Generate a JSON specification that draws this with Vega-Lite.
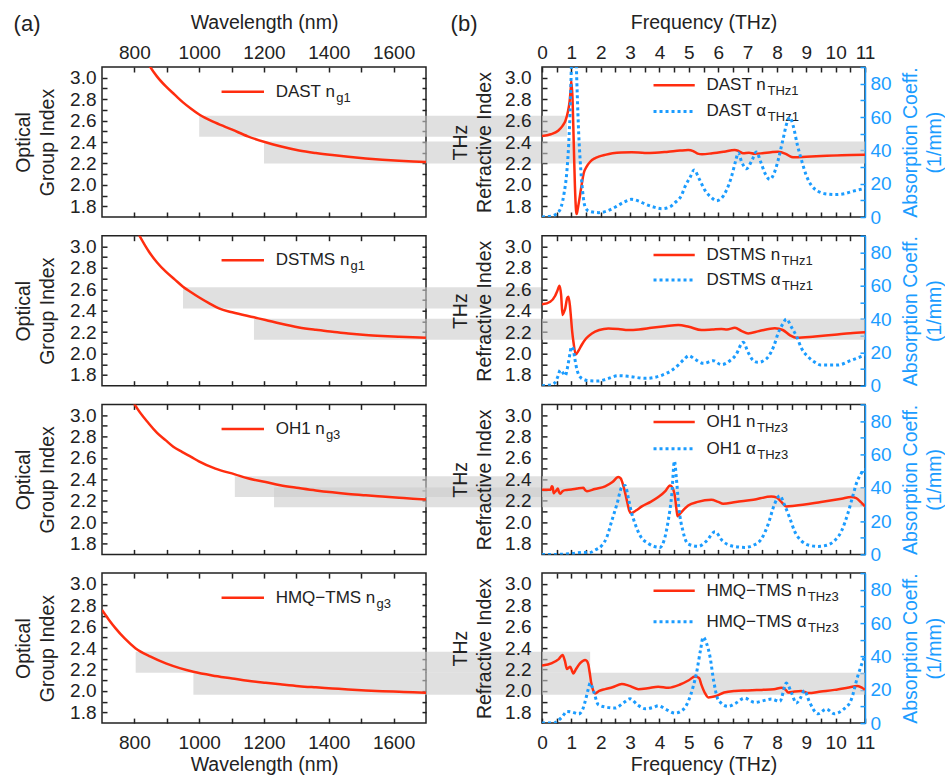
{
"$schema": "https://vega.github.io/schema/vega-lite/v6.json",
"background": "white",
"padding": {"left": 12, "top": 11, "right": 0, "bottom": 0},
"datasets": {
"opt_dast": [{"lam":835,"n":3.17},{"lam":847,"n":3.109},{"lam":870,"n":3.01},{"lam":898,"n":2.916},{"lam":925,"n":2.84},{"lam":950,"n":2.77},{"lam":975,"n":2.71},{"lam":1000,"n":2.656},{"lam":1050,"n":2.58},{"lam":1102,"n":2.515},{"lam":1150,"n":2.453},{"lam":1205,"n":2.397},{"lam":1250,"n":2.36},{"lam":1308,"n":2.321},{"lam":1360,"n":2.297},{"lam":1411,"n":2.278},{"lam":1460,"n":2.262},{"lam":1514,"n":2.247},{"lam":1565,"n":2.235},{"lam":1617,"n":2.225},{"lam":1660,"n":2.218},{"lam":1700,"n":2.213}],
"opt_dstms": [{"lam":805,"n":3.16},{"lam":814,"n":3.109},{"lam":845,"n":2.95},{"lam":870,"n":2.85},{"lam":897,"n":2.764},{"lam":925,"n":2.69},{"lam":950,"n":2.624},{"lam":975,"n":2.572},{"lam":999,"n":2.525},{"lam":1030,"n":2.47},{"lam":1061,"n":2.421},{"lam":1102,"n":2.385},{"lam":1169,"n":2.338},{"lam":1205,"n":2.313},{"lam":1250,"n":2.28},{"lam":1308,"n":2.244},{"lam":1360,"n":2.222},{"lam":1411,"n":2.204},{"lam":1460,"n":2.187},{"lam":1514,"n":2.173},{"lam":1565,"n":2.164},{"lam":1617,"n":2.157},{"lam":1660,"n":2.152},{"lam":1700,"n":2.148}],
"opt_oh1": [{"lam":790,"n":3.16},{"lam":799,"n":3.109},{"lam":845,"n":2.92},{"lam":870,"n":2.835},{"lam":897,"n":2.764},{"lam":920,"n":2.705},{"lam":948,"n":2.655},{"lam":975,"n":2.61},{"lam":999,"n":2.568},{"lam":1050,"n":2.5},{"lam":1110,"n":2.447},{"lam":1150,"n":2.41},{"lam":1205,"n":2.375},{"lam":1250,"n":2.345},{"lam":1308,"n":2.319},{"lam":1360,"n":2.297},{"lam":1411,"n":2.279},{"lam":1460,"n":2.264},{"lam":1514,"n":2.251},{"lam":1565,"n":2.24},{"lam":1617,"n":2.229},{"lam":1660,"n":2.22},{"lam":1700,"n":2.213}],
"opt_hmq": [{"lam":700,"n":2.755},{"lam":720,"n":2.67},{"lam":742,"n":2.584},{"lam":770,"n":2.49},{"lam":804,"n":2.397},{"lam":850,"n":2.32},{"lam":897,"n":2.257},{"lam":940,"n":2.213},{"lam":982,"n":2.179},{"lam":1040,"n":2.145},{"lam":1102,"n":2.117},{"lam":1150,"n":2.095},{"lam":1205,"n":2.076},{"lam":1250,"n":2.062},{"lam":1308,"n":2.045},{"lam":1360,"n":2.034},{"lam":1411,"n":2.024},{"lam":1460,"n":2.014},{"lam":1514,"n":2.005},{"lam":1565,"n":1.998},{"lam":1617,"n":1.992},{"lam":1660,"n":1.987},{"lam":1700,"n":1.983}],
"n_dast": [{"f":0,"n":2.456},{"f":0.3,"n":2.472},{"f":0.55,"n":2.505},{"f":0.7,"n":2.55},{"f":0.8,"n":2.6},{"f":0.88,"n":2.68},{"f":0.94,"n":2.78},{"f":0.98,"n":2.9},{"f":1.0,"n":2.97},{"f":1.04,"n":2.8},{"f":1.08,"n":2.4},{"f":1.12,"n":2.0},{"f":1.16,"n":1.76},{"f":1.18,"n":1.728},{"f":1.22,"n":1.78},{"f":1.27,"n":1.86},{"f":1.35,"n":2.0},{"f":1.42,"n":2.108},{"f":1.52,"n":2.17},{"f":1.64,"n":2.216},{"f":1.8,"n":2.248},{"f":1.93,"n":2.263},{"f":2.15,"n":2.28},{"f":2.4,"n":2.294},{"f":2.7,"n":2.302},{"f":3.06,"n":2.304},{"f":3.5,"n":2.298},{"f":3.85,"n":2.3},{"f":4.3,"n":2.31},{"f":4.7,"n":2.32},{"f":4.98,"n":2.325},{"f":5.15,"n":2.315},{"f":5.3,"n":2.292},{"f":5.45,"n":2.285},{"f":5.8,"n":2.295},{"f":6.2,"n":2.31},{"f":6.56,"n":2.325},{"f":6.7,"n":2.315},{"f":6.85,"n":2.294},{"f":7.05,"n":2.3},{"f":7.24,"n":2.29},{"f":7.5,"n":2.295},{"f":7.8,"n":2.305},{"f":8.04,"n":2.31},{"f":8.3,"n":2.29},{"f":8.5,"n":2.26},{"f":8.6,"n":2.257},{"f":9.0,"n":2.263},{"f":9.51,"n":2.27},{"f":10.2,"n":2.277},{"f":11,"n":2.28}],
"a_dast": [{"f":0,"a":0},{"f":0.3,"a":0.5},{"f":0.5,"a":2},{"f":0.65,"a":6},{"f":0.75,"a":14},{"f":0.85,"a":28},{"f":0.91,"a":44},{"f":0.97,"a":70},{"f":1.0,"a":90},{"f":1.05,"a":110},{"f":1.1,"a":115},{"f":1.15,"a":100},{"f":1.2,"a":74},{"f":1.25,"a":50},{"f":1.3,"a":34},{"f":1.38,"a":16},{"f":1.47,"a":6},{"f":1.6,"a":3.5},{"f":1.93,"a":2.6},{"f":2.2,"a":3.5},{"f":2.5,"a":6},{"f":2.8,"a":9},{"f":3.06,"a":10.6},{"f":3.3,"a":9.5},{"f":3.51,"a":7.8},{"f":3.8,"a":6},{"f":4.08,"a":5},{"f":4.35,"a":6},{"f":4.53,"a":8.6},{"f":4.75,"a":13},{"f":4.87,"a":18.2},{"f":5.05,"a":24},{"f":5.18,"a":28.2},{"f":5.35,"a":23},{"f":5.55,"a":16},{"f":5.75,"a":12},{"f":5.94,"a":9.8},{"f":6.1,"a":11},{"f":6.28,"a":16},{"f":6.45,"a":24},{"f":6.6,"a":34},{"f":6.68,"a":38.6},{"f":6.8,"a":33},{"f":6.96,"a":29},{"f":7.15,"a":34},{"f":7.3,"a":39},{"f":7.45,"a":33},{"f":7.6,"a":26},{"f":7.76,"a":22.6},{"f":7.9,"a":26},{"f":8.04,"a":34},{"f":8.2,"a":46},{"f":8.35,"a":57},{"f":8.44,"a":59.8},{"f":8.55,"a":55},{"f":8.7,"a":43},{"f":8.84,"a":34},{"f":9.0,"a":25},{"f":9.18,"a":18.8},{"f":9.4,"a":15.5},{"f":9.63,"a":14},{"f":10.0,"a":13.5},{"f":10.3,"a":14},{"f":10.6,"a":15.5},{"f":11,"a":17.2}],
"n_dstms": [{"f":0,"n":2.459},{"f":0.28,"n":2.484},{"f":0.45,"n":2.54},{"f":0.51,"n":2.577},{"f":0.6,"n":2.633},{"f":0.65,"n":2.55},{"f":0.7,"n":2.36},{"f":0.75,"n":2.39},{"f":0.79,"n":2.42},{"f":0.86,"n":2.52},{"f":0.9,"n":2.53},{"f":0.95,"n":2.45},{"f":0.98,"n":2.36},{"f":1.03,"n":2.2},{"f":1.07,"n":2.11},{"f":1.15,"n":1.992},{"f":1.25,"n":2.03},{"f":1.35,"n":2.08},{"f":1.5,"n":2.14},{"f":1.7,"n":2.188},{"f":1.95,"n":2.22},{"f":2.26,"n":2.235},{"f":2.6,"n":2.23},{"f":2.94,"n":2.22},{"f":3.3,"n":2.225},{"f":3.73,"n":2.24},{"f":4.2,"n":2.255},{"f":4.64,"n":2.267},{"f":5.0,"n":2.25},{"f":5.43,"n":2.22},{"f":5.8,"n":2.225},{"f":6.11,"n":2.23},{"f":6.3,"n":2.225},{"f":6.57,"n":2.24},{"f":6.8,"n":2.21},{"f":7.02,"n":2.188},{"f":7.4,"n":2.21},{"f":7.93,"n":2.236},{"f":8.2,"n":2.22},{"f":8.45,"n":2.17},{"f":8.66,"n":2.148},{"f":9.3,"n":2.16},{"f":9.96,"n":2.175},{"f":10.5,"n":2.19},{"f":11,"n":2.198}],
"a_dstms": [{"f":0,"a":0},{"f":0.3,"a":0.5},{"f":0.45,"a":2},{"f":0.55,"a":6},{"f":0.62,"a":9.4},{"f":0.7,"a":8},{"f":0.79,"a":6},{"f":0.88,"a":12},{"f":0.95,"a":19},{"f":1.0,"a":23.4},{"f":1.06,"a":22},{"f":1.12,"a":16},{"f":1.2,"a":9},{"f":1.35,"a":4.4},{"f":1.6,"a":3},{"f":1.92,"a":2.8},{"f":2.2,"a":4},{"f":2.6,"a":6},{"f":3.0,"a":5.5},{"f":3.5,"a":4.4},{"f":4.1,"a":6.4},{"f":4.4,"a":9},{"f":4.64,"a":12.4},{"f":4.85,"a":16},{"f":5.0,"a":18},{"f":5.2,"a":16},{"f":5.5,"a":13.4},{"f":5.83,"a":15},{"f":6.11,"a":12.6},{"f":6.4,"a":15},{"f":6.6,"a":18.4},{"f":6.85,"a":26},{"f":7.02,"a":20},{"f":7.2,"a":15},{"f":7.36,"a":14},{"f":7.55,"a":15},{"f":7.69,"a":17},{"f":7.9,"a":24},{"f":8.04,"a":31.4},{"f":8.2,"a":37},{"f":8.32,"a":40},{"f":8.5,"a":35},{"f":8.66,"a":30},{"f":8.85,"a":22},{"f":9.06,"a":17.4},{"f":9.3,"a":14},{"f":9.5,"a":12.4},{"f":10.07,"a":12.4},{"f":10.5,"a":15},{"f":11,"a":18.4}],
"n_oh1": [{"f":0,"n":2.304},{"f":0.3,"n":2.304},{"f":0.33,"n":2.335},{"f":0.36,"n":2.33},{"f":0.4,"n":2.27},{"f":0.43,"n":2.28},{"f":0.5,"n":2.3},{"f":0.54,"n":2.315},{"f":0.58,"n":2.28},{"f":0.62,"n":2.267},{"f":0.7,"n":2.29},{"f":0.79,"n":2.3},{"f":1.0,"n":2.305},{"f":1.2,"n":2.315},{"f":1.41,"n":2.322},{"f":1.47,"n":2.3},{"f":1.53,"n":2.29},{"f":1.8,"n":2.31},{"f":2.15,"n":2.335},{"f":2.4,"n":2.375},{"f":2.6,"n":2.422},{"f":2.68,"n":2.41},{"f":2.78,"n":2.33},{"f":2.89,"n":2.204},{"f":2.97,"n":2.11},{"f":3.03,"n":2.085},{"f":3.2,"n":2.11},{"f":3.4,"n":2.148},{"f":3.7,"n":2.19},{"f":3.96,"n":2.235},{"f":4.2,"n":2.29},{"f":4.36,"n":2.344},{"f":4.45,"n":2.32},{"f":4.53,"n":2.235},{"f":4.58,"n":2.12},{"f":4.62,"n":2.055},{"f":4.7,"n":2.08},{"f":4.98,"n":2.157},{"f":5.3,"n":2.19},{"f":5.77,"n":2.21},{"f":6.0,"n":2.19},{"f":6.17,"n":2.173},{"f":6.6,"n":2.19},{"f":7.2,"n":2.21},{"f":7.81,"n":2.24},{"f":8.0,"n":2.23},{"f":8.15,"n":2.19},{"f":8.32,"n":2.148},{"f":8.6,"n":2.155},{"f":9.5,"n":2.19},{"f":10.2,"n":2.22},{"f":10.53,"n":2.235},{"f":10.7,"n":2.225},{"f":10.85,"n":2.19},{"f":11,"n":2.148}],
"a_oh1": [{"f":0,"a":0},{"f":0.5,"a":0},{"f":1.0,"a":0.5},{"f":1.4,"a":1.2},{"f":1.6,"a":1},{"f":1.8,"a":2.5},{"f":2.04,"a":5.4},{"f":2.2,"a":10},{"f":2.38,"a":20.4},{"f":2.55,"a":30},{"f":2.72,"a":40.4},{"f":2.83,"a":41.4},{"f":2.95,"a":33},{"f":3.05,"a":25},{"f":3.17,"a":18.4},{"f":3.35,"a":11},{"f":3.62,"a":6.6},{"f":4.02,"a":4.2},{"f":4.15,"a":8},{"f":4.3,"a":20.4},{"f":4.42,"a":36},{"f":4.51,"a":56},{"f":4.58,"a":45},{"f":4.66,"a":28.2},{"f":4.8,"a":14},{"f":4.98,"a":6.2},{"f":5.32,"a":4.8},{"f":5.6,"a":8},{"f":5.89,"a":13.6},{"f":6.15,"a":8},{"f":6.44,"a":5.2},{"f":6.9,"a":4.2},{"f":7.2,"a":5.5},{"f":7.47,"a":9.2},{"f":7.7,"a":18},{"f":7.92,"a":30.2},{"f":8.1,"a":35.2},{"f":8.25,"a":30},{"f":8.43,"a":22.2},{"f":8.6,"a":14},{"f":8.83,"a":8.2},{"f":9.1,"a":5.5},{"f":9.4,"a":4.8},{"f":9.7,"a":5.5},{"f":9.96,"a":8.2},{"f":10.2,"a":14},{"f":10.41,"a":24.2},{"f":10.6,"a":36},{"f":10.7,"a":42.2},{"f":10.85,"a":48},{"f":10.95,"a":50.5},{"f":11,"a":51}],
"n_hmq": [{"f":0,"n":2.238},{"f":0.34,"n":2.26},{"f":0.57,"n":2.297},{"f":0.7,"n":2.335},{"f":0.78,"n":2.28},{"f":0.85,"n":2.204},{"f":0.9,"n":2.215},{"f":0.96,"n":2.226},{"f":1.02,"n":2.19},{"f":1.07,"n":2.164},{"f":1.15,"n":2.2},{"f":1.3,"n":2.26},{"f":1.47,"n":2.29},{"f":1.53,"n":2.28},{"f":1.58,"n":2.245},{"f":1.63,"n":2.16},{"f":1.67,"n":2.085},{"f":1.75,"n":2.0},{"f":1.81,"n":1.977},{"f":1.95,"n":2.0},{"f":2.15,"n":2.017},{"f":2.4,"n":2.035},{"f":2.72,"n":2.064},{"f":2.95,"n":2.05},{"f":3.28,"n":2.017},{"f":3.6,"n":2.025},{"f":3.96,"n":2.04},{"f":4.3,"n":2.03},{"f":4.7,"n":2.06},{"f":5.0,"n":2.1},{"f":5.21,"n":2.135},{"f":5.35,"n":2.12},{"f":5.43,"n":2.057},{"f":5.55,"n":1.98},{"f":5.66,"n":1.94},{"f":5.9,"n":1.95},{"f":6.2,"n":1.985},{"f":6.57,"n":2.0},{"f":7.0,"n":2.005},{"f":7.47,"n":2.01},{"f":7.9,"n":2.015},{"f":8.15,"n":2.03},{"f":8.3,"n":2.01},{"f":8.38,"n":1.986},{"f":8.6,"n":1.995},{"f":8.83,"n":2.0},{"f":8.95,"n":1.99},{"f":9.06,"n":1.98},{"f":9.5,"n":1.995},{"f":9.96,"n":2.01},{"f":10.4,"n":2.03},{"f":10.75,"n":2.047},{"f":10.9,"n":2.03},{"f":11,"n":2.01}],
"a_hmq": [{"f":0,"a":0},{"f":0.4,"a":0},{"f":0.55,"a":1.5},{"f":0.7,"a":4},{"f":0.85,"a":7},{"f":1.02,"a":6.6},{"f":1.25,"a":5.5},{"f":1.38,"a":8},{"f":1.47,"a":13},{"f":1.57,"a":20},{"f":1.64,"a":24},{"f":1.7,"a":22},{"f":1.76,"a":19},{"f":1.92,"a":11},{"f":2.2,"a":9.5},{"f":2.49,"a":9},{"f":2.8,"a":12.5},{"f":3.0,"a":14.6},{"f":3.25,"a":11},{"f":3.51,"a":8.6},{"f":3.8,"a":9.5},{"f":3.96,"a":10.4},{"f":4.25,"a":8},{"f":4.53,"a":6},{"f":4.8,"a":8},{"f":4.98,"a":13},{"f":5.15,"a":22},{"f":5.26,"a":30},{"f":5.4,"a":44},{"f":5.49,"a":51.6},{"f":5.6,"a":48},{"f":5.72,"a":40},{"f":5.85,"a":25},{"f":6.0,"a":14},{"f":6.34,"a":10},{"f":6.6,"a":12},{"f":6.9,"a":15},{"f":7.25,"a":12.4},{"f":7.55,"a":13.5},{"f":7.81,"a":14.4},{"f":8.1,"a":13},{"f":8.32,"a":24},{"f":8.5,"a":18},{"f":8.66,"a":12},{"f":8.8,"a":15},{"f":8.94,"a":19.6},{"f":9.1,"a":13},{"f":9.4,"a":5.6},{"f":9.68,"a":8.4},{"f":9.96,"a":5.6},{"f":10.25,"a":8},{"f":10.53,"a":14},{"f":10.75,"a":28},{"f":10.9,"a":36},{"f":11,"a":41}],
"bands_dast": [{"lam_start":1000,"lam_end":2058,"f_start":0,"f_end":0.85,"lo":2.45,"hi":2.645},{"lam_start":1200,"lam_end":2058,"f_start":0,"f_end":11,"lo":2.2,"hi":2.405}],
"bands_dstms": [{"lam_start":950,"lam_end":2058,"f_start":0,"f_end":0,"lo":2.42,"hi":2.62},{"lam_start":1169,"lam_end":2058,"f_start":0,"f_end":11,"lo":2.13,"hi":2.325}],
"bands_oh1": [{"lam_start":1110,"lam_end":2058,"f_start":0,"f_end":2.66,"lo":2.235,"hi":2.43},{"lam_start":1231,"lam_end":2058,"f_start":0,"f_end":11,"lo":2.14,"hi":2.325}],
"bands_hmq": [{"lam_start":804,"lam_end":2058,"f_start":0,"f_end":1.64,"lo":2.17,"hi":2.365},{"lam_start":982,"lam_end":2058,"f_start":0,"f_end":11,"lo":1.965,"hi":2.17}]
},
"concat": [
 {"width":324,"height":150,
  "title":{"text":"(a)","anchor":"start","frame":"bounds","offset":-24,"fontSize":22,"font":"Liberation Sans","fontWeight":"normal","color":"#222222"},
  "layer":[
   {"layer":[
    {"data":{"name":"bands_dast"},"mark":{"type":"rect","color":"#cccccc","opacity":0.6,"clip":false},
     "encoding":{"x":{"field":"lam_start","type":"quantitative","scale":{"domain":[700,1700],"nice":false,"zero":false}},"x2":{"field":"lam_end"},
      "y":{"field":"lo","type":"quantitative","scale":{"domain":[1.7,3.1],"nice":false,"zero":false}},"y2":{"field":"hi"}}},
    {"data":{"name":"opt_dast"},"mark":{"type":"line","color":"#ff2d0f","strokeWidth":2.5,"clip":true,"interpolate":"monotone"},
     "encoding":{"x":{"field":"lam","type":"quantitative","axis":{"orient":"bottom","labels":false,"ticks":false,"title":null}},
      "y":{"field":"n","type":"quantitative","axis":{"orient":"left","labels":false,"ticks":false,"title":null}}}},
    {"data":{"values":[{}]},"mark":{"type":"point","shape":"M-1,0L1,0","size":1800,"filled":false,"opacity":1,"color":"#ff2d0f","strokeWidth":2.5},
     "encoding":{"x":{"datum":1134.5,"type":"quantitative"},"y":{"datum":2.87,"type":"quantitative"}}},
    {"data":{"values":[{}]},"mark":{"type":"text","text":"DAST n","align":"left","baseline":"middle","fontSize":17,"font":"Liberation Sans","color":"#222222"},
     "encoding":{"x":{"datum":1236,"type":"quantitative"},"y":{"datum":2.87,"type":"quantitative"}}},
    {"data":{"values":[{}]},"mark":{"type":"text","text":"g1","align":"left","baseline":"middle","fontSize":13,"dy":6,"font":"Liberation Sans","color":"#222222"},
     "encoding":{"x":{"datum":1423,"type":"quantitative"},"y":{"datum":2.87,"type":"quantitative"}}}
   ]},
   {"data":{"name":"opt_dast"},"mark":{"type":"line","opacity":0},
    "encoding":{"x":{"field":"lam","type":"quantitative","axis":{"orient":"top","values":[800,900,1000,1100,1200,1300,1400,1500,1600],"labelExpr":"datum.value % 200 == 0 ? format(datum.value,'d') : ''","labelOverlap":false,"title":"Wavelength (nm)","labelPadding":10,"titlePadding":11}},
     "y":{"field":"n","type":"quantitative","axis":{"orient":"right","values":[1.8,1.9,2.0,2.1,2.2,2.3,2.4,2.5,2.6,2.7,2.8,2.9,3.0],"labels":false,"title":null,"tickSize":-4}}}},
   {"data":{"name":"opt_dast"},"mark":{"type":"line","opacity":0},
    "encoding":{"x":{"field":"lam","type":"quantitative","axis":{"orient":"bottom","values":[800,900,1000,1100,1200,1300,1400,1500,1600],"labels":false,"title":null}},
     "y":{"field":"n","type":"quantitative","axis":{"orient":"left","values":[1.8,1.9,2.0,2.1,2.2,2.3,2.4,2.5,2.6,2.7,2.8,2.9,3.0],"labelExpr":"round(datum.value*10) % 2 == 0 ? format(datum.value,'.1f') : ''","labelOverlap":false,"title":["Optical","Group Index"],"labelPadding":11,"titlePadding":12}}}}
  ],
  "resolve":{"axis":{"x":"independent","y":"independent"}}},
 {"width":323,"height":150,
  "title":{"text":"(b)","anchor":"start","frame":"bounds","offset":-24,"fontSize":22,"font":"Liberation Sans","fontWeight":"normal","color":"#222222"},
  "layer":[
   {"layer":[
    {"data":{"name":"bands_dast"},"mark":{"type":"rect","color":"#cccccc","opacity":0.6},
     "encoding":{"x":{"field":"f_start","type":"quantitative","scale":{"domain":[0,11],"nice":false,"zero":false}},"x2":{"field":"f_end"},
      "y":{"field":"lo","type":"quantitative","scale":{"domain":[1.7,3.1],"nice":false,"zero":false}},"y2":{"field":"hi"}}},
    {"data":{"name":"n_dast"},"mark":{"type":"line","color":"#ff2d0f","strokeWidth":2.5,"clip":true,"interpolate":"monotone"},
     "encoding":{"x":{"field":"f","type":"quantitative","axis":{"orient":"bottom","labels":false,"ticks":false,"title":null}},
      "y":{"field":"n","type":"quantitative","axis":{"orient":"left","labels":false,"ticks":false,"title":null}}}},
    {"data":{"values":[{}]},"mark":{"type":"point","shape":"M-1,0L1,0","size":1700,"filled":false,"opacity":1,"color":"#ff2d0f","strokeWidth":2.5},
     "encoding":{"x":{"datum":4.5,"type":"quantitative"},"y":{"datum":2.93,"type":"quantitative"}}},
    {"data":{"values":[{}]},"mark":{"type":"point","shape":"M-1,0L1,0","size":1700,"filled":false,"opacity":1,"color":"#1b9cff","strokeWidth":3,"strokeDash":[3,3]},
     "encoding":{"x":{"datum":4.5,"type":"quantitative"},"y":{"datum":2.685,"type":"quantitative"}}},
    {"data":{"values":[{}]},"mark":{"type":"text","text":"DAST n","align":"left","baseline":"middle","fontSize":17,"font":"Liberation Sans","color":"#222222"},
     "encoding":{"x":{"datum":5.6,"type":"quantitative"},"y":{"datum":2.93,"type":"quantitative"}}},
    {"data":{"values":[{}]},"mark":{"type":"text","text":"THz1","align":"left","baseline":"middle","fontSize":13,"dy":6,"font":"Liberation Sans","color":"#222222"},
     "encoding":{"x":{"datum":7.68,"type":"quantitative"},"y":{"datum":2.93,"type":"quantitative"}}},
    {"data":{"values":[{}]},"mark":{"type":"text","text":"DAST α","align":"left","baseline":"middle","fontSize":17,"font":"Liberation Sans","color":"#222222"},
     "encoding":{"x":{"datum":5.6,"type":"quantitative"},"y":{"datum":2.685,"type":"quantitative"}}},
    {"data":{"values":[{}]},"mark":{"type":"text","text":"THz1","align":"left","baseline":"middle","fontSize":13,"dy":6,"font":"Liberation Sans","color":"#222222"},
     "encoding":{"x":{"datum":7.69,"type":"quantitative"},"y":{"datum":2.685,"type":"quantitative"}}}
   ]},
   {"data":{"name":"a_dast"},"mark":{"type":"line","color":"#1b9cff","strokeWidth":3,"strokeDash":[3,3],"clip":true,"interpolate":"monotone"},
    "encoding":{"x":{"field":"f","type":"quantitative","axis":{"orient":"top","values":[0,0.5,1,1.5,2,2.5,3,3.5,4,4.5,5,5.5,6,6.5,7,7.5,8,8.5,9,9.5,10,10.5,11],"labelExpr":"datum.value % 1 == 0 ? format(datum.value,'d') : ''","labelOverlap":false,"title":"Frequency (THz)","labelPadding":10,"titlePadding":11}},
     "y":{"field":"a","type":"quantitative","scale":{"domain":[0,90],"nice":false,"zero":false},"axis":{"orient":"right","values":[0,10,20,30,40,50,60,70,80,90],"labelExpr":"datum.value % 20 == 0 ? format(datum.value,'d') : ''","labelOverlap":false,"title":["Absorption Coeff.","(1/mm)"],"titleAngle":-90,"titleBaseline":"top","labelColor":"#1b9cff","tickColor":"#1b9cff","titleColor":"#1b9cff","domain":true,"domainColor":"#1b9cff","domainWidth":1.5,"labelPadding":10,"titlePadding":-14}}}},
   {"data":{"name":"n_dast"},"mark":{"type":"line","opacity":0},
    "encoding":{"x":{"field":"f","type":"quantitative","axis":{"orient":"bottom","values":[0.5,1,1.5,2,2.5,3,3.5,4,4.5,5,5.5,6,6.5,7,7.5,8,8.5,9,9.5,10,10.5],"labels":false,"title":null}},
     "y":{"field":"n","type":"quantitative","scale":{"domain":[1.7,3.1],"nice":false,"zero":false},"axis":{"orient":"left","values":[1.8,1.9,2.0,2.1,2.2,2.3,2.4,2.5,2.6,2.7,2.8,2.9,3.0],"labelExpr":"round(datum.value*10) % 2 == 0 ? format(datum.value,'.1f') : ''","labelOverlap":false,"title":["THz","Refractive Index"],"labelPadding":16,"titlePadding":10}}}}
  ],
  "resolve":{"scale":{"y":"independent"},"axis":{"x":"independent","y":"independent"}}},
 {"width":324,"height":150,
  "layer":[
   {"layer":[
    {"data":{"name":"bands_dstms"},"mark":{"type":"rect","color":"#cccccc","opacity":0.6,"clip":false},
     "encoding":{"x":{"field":"lam_start","type":"quantitative","scale":{"domain":[700,1700],"nice":false,"zero":false}},"x2":{"field":"lam_end"},
      "y":{"field":"lo","type":"quantitative","scale":{"domain":[1.7,3.1],"nice":false,"zero":false}},"y2":{"field":"hi"}}},
    {"data":{"name":"opt_dstms"},"mark":{"type":"line","color":"#ff2d0f","strokeWidth":2.5,"clip":true,"interpolate":"monotone"},
     "encoding":{"x":{"field":"lam","type":"quantitative","axis":{"orient":"bottom","labels":false,"ticks":false,"title":null}},
      "y":{"field":"n","type":"quantitative","axis":{"orient":"left","labels":false,"ticks":false,"title":null}}}},
    {"data":{"values":[{}]},"mark":{"type":"point","shape":"M-1,0L1,0","size":1800,"filled":false,"opacity":1,"color":"#ff2d0f","strokeWidth":2.5},
     "encoding":{"x":{"datum":1134.5,"type":"quantitative"},"y":{"datum":2.87,"type":"quantitative"}}},
    {"data":{"values":[{}]},"mark":{"type":"text","text":"DSTMS n","align":"left","baseline":"middle","fontSize":17,"font":"Liberation Sans","color":"#222222"},
     "encoding":{"x":{"datum":1236,"type":"quantitative"},"y":{"datum":2.87,"type":"quantitative"}}},
    {"data":{"values":[{}]},"mark":{"type":"text","text":"g1","align":"left","baseline":"middle","fontSize":13,"dy":6,"font":"Liberation Sans","color":"#222222"},
     "encoding":{"x":{"datum":1467,"type":"quantitative"},"y":{"datum":2.87,"type":"quantitative"}}}
   ]},
   {"data":{"name":"opt_dstms"},"mark":{"type":"line","opacity":0},
    "encoding":{"x":{"field":"lam","type":"quantitative","axis":{"orient":"top","values":[800,900,1000,1100,1200,1300,1400,1500,1600],"labels":false,"title":null}},
     "y":{"field":"n","type":"quantitative","axis":{"orient":"right","values":[1.8,1.9,2.0,2.1,2.2,2.3,2.4,2.5,2.6,2.7,2.8,2.9,3.0],"labels":false,"title":null,"tickSize":-4}}}},
   {"data":{"name":"opt_dstms"},"mark":{"type":"line","opacity":0},
    "encoding":{"x":{"field":"lam","type":"quantitative","axis":{"orient":"bottom","values":[800,900,1000,1100,1200,1300,1400,1500,1600],"labels":false,"title":null}},
     "y":{"field":"n","type":"quantitative","axis":{"orient":"left","values":[1.8,1.9,2.0,2.1,2.2,2.3,2.4,2.5,2.6,2.7,2.8,2.9,3.0],"labelExpr":"round(datum.value*10) % 2 == 0 ? format(datum.value,'.1f') : ''","labelOverlap":false,"title":["Optical","Group Index"],"labelPadding":11,"titlePadding":12}}}}
  ],
  "resolve":{"axis":{"x":"independent","y":"independent"}}},
 {"width":323,"height":150,
  "layer":[
   {"layer":[
    {"data":{"name":"bands_dstms"},"mark":{"type":"rect","color":"#cccccc","opacity":0.6},
     "encoding":{"x":{"field":"f_start","type":"quantitative","scale":{"domain":[0,11],"nice":false,"zero":false}},"x2":{"field":"f_end"},
      "y":{"field":"lo","type":"quantitative","scale":{"domain":[1.7,3.1],"nice":false,"zero":false}},"y2":{"field":"hi"}}},
    {"data":{"name":"n_dstms"},"mark":{"type":"line","color":"#ff2d0f","strokeWidth":2.5,"clip":true,"interpolate":"monotone"},
     "encoding":{"x":{"field":"f","type":"quantitative","axis":{"orient":"bottom","labels":false,"ticks":false,"title":null}},
      "y":{"field":"n","type":"quantitative","axis":{"orient":"left","labels":false,"ticks":false,"title":null}}}},
    {"data":{"values":[{}]},"mark":{"type":"point","shape":"M-1,0L1,0","size":1700,"filled":false,"opacity":1,"color":"#ff2d0f","strokeWidth":2.5},
     "encoding":{"x":{"datum":4.5,"type":"quantitative"},"y":{"datum":2.92,"type":"quantitative"}}},
    {"data":{"values":[{}]},"mark":{"type":"point","shape":"M-1,0L1,0","size":1700,"filled":false,"opacity":1,"color":"#1b9cff","strokeWidth":3,"strokeDash":[3,3]},
     "encoding":{"x":{"datum":4.5,"type":"quantitative"},"y":{"datum":2.687,"type":"quantitative"}}},
    {"data":{"values":[{}]},"mark":{"type":"text","text":"DSTMS n","align":"left","baseline":"middle","fontSize":17,"font":"Liberation Sans","color":"#222222"},
     "encoding":{"x":{"datum":5.6,"type":"quantitative"},"y":{"datum":2.92,"type":"quantitative"}}},
    {"data":{"values":[{}]},"mark":{"type":"text","text":"THz1","align":"left","baseline":"middle","fontSize":13,"dy":6,"font":"Liberation Sans","color":"#222222"},
     "encoding":{"x":{"datum":8.16,"type":"quantitative"},"y":{"datum":2.92,"type":"quantitative"}}},
    {"data":{"values":[{}]},"mark":{"type":"text","text":"DSTMS α","align":"left","baseline":"middle","fontSize":17,"font":"Liberation Sans","color":"#222222"},
     "encoding":{"x":{"datum":5.6,"type":"quantitative"},"y":{"datum":2.687,"type":"quantitative"}}},
    {"data":{"values":[{}]},"mark":{"type":"text","text":"THz1","align":"left","baseline":"middle","fontSize":13,"dy":6,"font":"Liberation Sans","color":"#222222"},
     "encoding":{"x":{"datum":8.17,"type":"quantitative"},"y":{"datum":2.687,"type":"quantitative"}}}
   ]},
   {"data":{"name":"a_dstms"},"mark":{"type":"line","color":"#1b9cff","strokeWidth":3,"strokeDash":[3,3],"clip":true,"interpolate":"monotone"},
    "encoding":{"x":{"field":"f","type":"quantitative","axis":{"orient":"top","values":[0.5,1,1.5,2,2.5,3,3.5,4,4.5,5,5.5,6,6.5,7,7.5,8,8.5,9,9.5,10,10.5],"labels":false,"title":null}},
     "y":{"field":"a","type":"quantitative","scale":{"domain":[0,90],"nice":false,"zero":false},"axis":{"orient":"right","values":[0,10,20,30,40,50,60,70,80,90],"labelExpr":"datum.value % 20 == 0 ? format(datum.value,'d') : ''","labelOverlap":false,"title":["Absorption Coeff.","(1/mm)"],"titleAngle":-90,"titleBaseline":"top","labelColor":"#1b9cff","tickColor":"#1b9cff","titleColor":"#1b9cff","domain":true,"domainColor":"#1b9cff","domainWidth":1.5,"labelPadding":10,"titlePadding":-14}}}},
   {"data":{"name":"n_dstms"},"mark":{"type":"line","opacity":0},
    "encoding":{"x":{"field":"f","type":"quantitative","axis":{"orient":"bottom","values":[0.5,1,1.5,2,2.5,3,3.5,4,4.5,5,5.5,6,6.5,7,7.5,8,8.5,9,9.5,10,10.5],"labels":false,"title":null}},
     "y":{"field":"n","type":"quantitative","scale":{"domain":[1.7,3.1],"nice":false,"zero":false},"axis":{"orient":"left","values":[1.8,1.9,2.0,2.1,2.2,2.3,2.4,2.5,2.6,2.7,2.8,2.9,3.0],"labelExpr":"round(datum.value*10) % 2 == 0 ? format(datum.value,'.1f') : ''","labelOverlap":false,"title":["THz","Refractive Index"],"labelPadding":16,"titlePadding":10}}}}
  ],
  "resolve":{"scale":{"y":"independent"},"axis":{"x":"independent","y":"independent"}}},
 {"width":324,"height":150,
  "layer":[
   {"layer":[
    {"data":{"name":"bands_oh1"},"mark":{"type":"rect","color":"#cccccc","opacity":0.6,"clip":false},
     "encoding":{"x":{"field":"lam_start","type":"quantitative","scale":{"domain":[700,1700],"nice":false,"zero":false}},"x2":{"field":"lam_end"},
      "y":{"field":"lo","type":"quantitative","scale":{"domain":[1.7,3.1],"nice":false,"zero":false}},"y2":{"field":"hi"}}},
    {"data":{"name":"opt_oh1"},"mark":{"type":"line","color":"#ff2d0f","strokeWidth":2.5,"clip":true,"interpolate":"monotone"},
     "encoding":{"x":{"field":"lam","type":"quantitative","axis":{"orient":"bottom","labels":false,"ticks":false,"title":null}},
      "y":{"field":"n","type":"quantitative","axis":{"orient":"left","labels":false,"ticks":false,"title":null}}}},
    {"data":{"values":[{}]},"mark":{"type":"point","shape":"M-1,0L1,0","size":1800,"filled":false,"opacity":1,"color":"#ff2d0f","strokeWidth":2.5},
     "encoding":{"x":{"datum":1134.5,"type":"quantitative"},"y":{"datum":2.87,"type":"quantitative"}}},
    {"data":{"values":[{}]},"mark":{"type":"text","text":"OH1 n","align":"left","baseline":"middle","fontSize":17,"font":"Liberation Sans","color":"#222222"},
     "encoding":{"x":{"datum":1236,"type":"quantitative"},"y":{"datum":2.87,"type":"quantitative"}}},
    {"data":{"values":[{}]},"mark":{"type":"text","text":"g3","align":"left","baseline":"middle","fontSize":13,"dy":6,"font":"Liberation Sans","color":"#222222"},
     "encoding":{"x":{"datum":1391,"type":"quantitative"},"y":{"datum":2.87,"type":"quantitative"}}}
   ]},
   {"data":{"name":"opt_oh1"},"mark":{"type":"line","opacity":0},
    "encoding":{"x":{"field":"lam","type":"quantitative","axis":{"orient":"top","values":[800,900,1000,1100,1200,1300,1400,1500,1600],"labels":false,"title":null}},
     "y":{"field":"n","type":"quantitative","axis":{"orient":"right","values":[1.8,1.9,2.0,2.1,2.2,2.3,2.4,2.5,2.6,2.7,2.8,2.9,3.0],"labels":false,"title":null,"tickSize":-4}}}},
   {"data":{"name":"opt_oh1"},"mark":{"type":"line","opacity":0},
    "encoding":{"x":{"field":"lam","type":"quantitative","axis":{"orient":"bottom","values":[800,900,1000,1100,1200,1300,1400,1500,1600],"labels":false,"title":null}},
     "y":{"field":"n","type":"quantitative","axis":{"orient":"left","values":[1.8,1.9,2.0,2.1,2.2,2.3,2.4,2.5,2.6,2.7,2.8,2.9,3.0],"labelExpr":"round(datum.value*10) % 2 == 0 ? format(datum.value,'.1f') : ''","labelOverlap":false,"title":["Optical","Group Index"],"labelPadding":11,"titlePadding":12}}}}
  ],
  "resolve":{"axis":{"x":"independent","y":"independent"}}},
 {"width":323,"height":150,
  "layer":[
   {"layer":[
    {"data":{"name":"bands_oh1"},"mark":{"type":"rect","color":"#cccccc","opacity":0.6},
     "encoding":{"x":{"field":"f_start","type":"quantitative","scale":{"domain":[0,11],"nice":false,"zero":false}},"x2":{"field":"f_end"},
      "y":{"field":"lo","type":"quantitative","scale":{"domain":[1.7,3.1],"nice":false,"zero":false}},"y2":{"field":"hi"}}},
    {"data":{"name":"n_oh1"},"mark":{"type":"line","color":"#ff2d0f","strokeWidth":2.5,"clip":true,"interpolate":"monotone"},
     "encoding":{"x":{"field":"f","type":"quantitative","axis":{"orient":"bottom","labels":false,"ticks":false,"title":null}},
      "y":{"field":"n","type":"quantitative","axis":{"orient":"left","labels":false,"ticks":false,"title":null}}}},
    {"data":{"values":[{}]},"mark":{"type":"point","shape":"M-1,0L1,0","size":1700,"filled":false,"opacity":1,"color":"#ff2d0f","strokeWidth":2.5},
     "encoding":{"x":{"datum":4.5,"type":"quantitative"},"y":{"datum":2.935,"type":"quantitative"}}},
    {"data":{"values":[{}]},"mark":{"type":"point","shape":"M-1,0L1,0","size":1700,"filled":false,"opacity":1,"color":"#1b9cff","strokeWidth":3,"strokeDash":[3,3]},
     "encoding":{"x":{"datum":4.5,"type":"quantitative"},"y":{"datum":2.686,"type":"quantitative"}}},
    {"data":{"values":[{}]},"mark":{"type":"text","text":"OH1 n","align":"left","baseline":"middle","fontSize":17,"font":"Liberation Sans","color":"#222222"},
     "encoding":{"x":{"datum":5.6,"type":"quantitative"},"y":{"datum":2.935,"type":"quantitative"}}},
    {"data":{"values":[{}]},"mark":{"type":"text","text":"THz3","align":"left","baseline":"middle","fontSize":13,"dy":6,"font":"Liberation Sans","color":"#222222"},
     "encoding":{"x":{"datum":7.32,"type":"quantitative"},"y":{"datum":2.935,"type":"quantitative"}}},
    {"data":{"values":[{}]},"mark":{"type":"text","text":"OH1 α","align":"left","baseline":"middle","fontSize":17,"font":"Liberation Sans","color":"#222222"},
     "encoding":{"x":{"datum":5.6,"type":"quantitative"},"y":{"datum":2.686,"type":"quantitative"}}},
    {"data":{"values":[{}]},"mark":{"type":"text","text":"THz3","align":"left","baseline":"middle","fontSize":13,"dy":6,"font":"Liberation Sans","color":"#222222"},
     "encoding":{"x":{"datum":7.33,"type":"quantitative"},"y":{"datum":2.686,"type":"quantitative"}}}
   ]},
   {"data":{"name":"a_oh1"},"mark":{"type":"line","color":"#1b9cff","strokeWidth":3,"strokeDash":[3,3],"clip":true,"interpolate":"monotone"},
    "encoding":{"x":{"field":"f","type":"quantitative","axis":{"orient":"top","values":[0.5,1,1.5,2,2.5,3,3.5,4,4.5,5,5.5,6,6.5,7,7.5,8,8.5,9,9.5,10,10.5],"labels":false,"title":null}},
     "y":{"field":"a","type":"quantitative","scale":{"domain":[0,90],"nice":false,"zero":false},"axis":{"orient":"right","values":[0,10,20,30,40,50,60,70,80,90],"labelExpr":"datum.value % 20 == 0 ? format(datum.value,'d') : ''","labelOverlap":false,"title":["Absorption Coeff.","(1/mm)"],"titleAngle":-90,"titleBaseline":"top","labelColor":"#1b9cff","tickColor":"#1b9cff","titleColor":"#1b9cff","domain":true,"domainColor":"#1b9cff","domainWidth":1.5,"labelPadding":10,"titlePadding":-14}}}},
   {"data":{"name":"n_oh1"},"mark":{"type":"line","opacity":0},
    "encoding":{"x":{"field":"f","type":"quantitative","axis":{"orient":"bottom","values":[0.5,1,1.5,2,2.5,3,3.5,4,4.5,5,5.5,6,6.5,7,7.5,8,8.5,9,9.5,10,10.5],"labels":false,"title":null}},
     "y":{"field":"n","type":"quantitative","scale":{"domain":[1.7,3.1],"nice":false,"zero":false},"axis":{"orient":"left","values":[1.8,1.9,2.0,2.1,2.2,2.3,2.4,2.5,2.6,2.7,2.8,2.9,3.0],"labelExpr":"round(datum.value*10) % 2 == 0 ? format(datum.value,'.1f') : ''","labelOverlap":false,"title":["THz","Refractive Index"],"labelPadding":16,"titlePadding":10}}}}
  ],
  "resolve":{"scale":{"y":"independent"},"axis":{"x":"independent","y":"independent"}}},
 {"width":324,"height":150,
  "layer":[
   {"layer":[
    {"data":{"name":"bands_hmq"},"mark":{"type":"rect","color":"#cccccc","opacity":0.6,"clip":false},
     "encoding":{"x":{"field":"lam_start","type":"quantitative","scale":{"domain":[700,1700],"nice":false,"zero":false}},"x2":{"field":"lam_end"},
      "y":{"field":"lo","type":"quantitative","scale":{"domain":[1.7,3.1],"nice":false,"zero":false}},"y2":{"field":"hi"}}},
    {"data":{"name":"opt_hmq"},"mark":{"type":"line","color":"#ff2d0f","strokeWidth":2.5,"clip":true,"interpolate":"monotone"},
     "encoding":{"x":{"field":"lam","type":"quantitative","axis":{"orient":"bottom","labels":false,"ticks":false,"title":null}},
      "y":{"field":"n","type":"quantitative","axis":{"orient":"left","labels":false,"ticks":false,"title":null}}}},
    {"data":{"values":[{}]},"mark":{"type":"point","shape":"M-1,0L1,0","size":1800,"filled":false,"opacity":1,"color":"#ff2d0f","strokeWidth":2.5},
     "encoding":{"x":{"datum":1134.5,"type":"quantitative"},"y":{"datum":2.87,"type":"quantitative"}}},
    {"data":{"values":[{}]},"mark":{"type":"text","text":"HMQ−TMS n","align":"left","baseline":"middle","fontSize":17,"font":"Liberation Sans","color":"#222222"},
     "encoding":{"x":{"datum":1236,"type":"quantitative"},"y":{"datum":2.87,"type":"quantitative"}}},
    {"data":{"values":[{}]},"mark":{"type":"text","text":"g3","align":"left","baseline":"middle","fontSize":13,"dy":6,"font":"Liberation Sans","color":"#222222"},
     "encoding":{"x":{"datum":1547,"type":"quantitative"},"y":{"datum":2.87,"type":"quantitative"}}}
   ]},
   {"data":{"name":"opt_hmq"},"mark":{"type":"line","opacity":0},
    "encoding":{"x":{"field":"lam","type":"quantitative","axis":{"orient":"top","values":[800,900,1000,1100,1200,1300,1400,1500,1600],"labels":false,"title":null}},
     "y":{"field":"n","type":"quantitative","axis":{"orient":"right","values":[1.8,1.9,2.0,2.1,2.2,2.3,2.4,2.5,2.6,2.7,2.8,2.9,3.0],"labels":false,"title":null,"tickSize":-4}}}},
   {"data":{"name":"opt_hmq"},"mark":{"type":"line","opacity":0},
    "encoding":{"x":{"field":"lam","type":"quantitative","axis":{"orient":"bottom","values":[800,900,1000,1100,1200,1300,1400,1500,1600],"labelExpr":"datum.value % 200 == 0 ? format(datum.value,'d') : ''","labelOverlap":false,"title":"Wavelength (nm)","labelPadding":15,"titlePadding":3}},
     "y":{"field":"n","type":"quantitative","axis":{"orient":"left","values":[1.8,1.9,2.0,2.1,2.2,2.3,2.4,2.5,2.6,2.7,2.8,2.9,3.0],"labelExpr":"round(datum.value*10) % 2 == 0 ? format(datum.value,'.1f') : ''","labelOverlap":false,"title":["Optical","Group Index"],"labelPadding":11,"titlePadding":12}}}}
  ],
  "resolve":{"axis":{"x":"independent","y":"independent"}}},
 {"width":323,"height":150,
  "layer":[
   {"layer":[
    {"data":{"name":"bands_hmq"},"mark":{"type":"rect","color":"#cccccc","opacity":0.6},
     "encoding":{"x":{"field":"f_start","type":"quantitative","scale":{"domain":[0,11],"nice":false,"zero":false}},"x2":{"field":"f_end"},
      "y":{"field":"lo","type":"quantitative","scale":{"domain":[1.7,3.1],"nice":false,"zero":false}},"y2":{"field":"hi"}}},
    {"data":{"name":"n_hmq"},"mark":{"type":"line","color":"#ff2d0f","strokeWidth":2.5,"clip":true,"interpolate":"monotone"},
     "encoding":{"x":{"field":"f","type":"quantitative","axis":{"orient":"bottom","labels":false,"ticks":false,"title":null}},
      "y":{"field":"n","type":"quantitative","axis":{"orient":"left","labels":false,"ticks":false,"title":null}}}},
    {"data":{"values":[{}]},"mark":{"type":"point","shape":"M-1,0L1,0","size":1700,"filled":false,"opacity":1,"color":"#ff2d0f","strokeWidth":2.5},
     "encoding":{"x":{"datum":4.5,"type":"quantitative"},"y":{"datum":2.935,"type":"quantitative"}}},
    {"data":{"values":[{}]},"mark":{"type":"point","shape":"M-1,0L1,0","size":1700,"filled":false,"opacity":1,"color":"#1b9cff","strokeWidth":3,"strokeDash":[3,3]},
     "encoding":{"x":{"datum":4.5,"type":"quantitative"},"y":{"datum":2.645,"type":"quantitative"}}},
    {"data":{"values":[{}]},"mark":{"type":"text","text":"HMQ−TMS n","align":"left","baseline":"middle","fontSize":17,"font":"Liberation Sans","color":"#222222"},
     "encoding":{"x":{"datum":5.6,"type":"quantitative"},"y":{"datum":2.935,"type":"quantitative"}}},
    {"data":{"values":[{}]},"mark":{"type":"text","text":"THz3","align":"left","baseline":"middle","fontSize":13,"dy":6,"font":"Liberation Sans","color":"#222222"},
     "encoding":{"x":{"datum":9.05,"type":"quantitative"},"y":{"datum":2.935,"type":"quantitative"}}},
    {"data":{"values":[{}]},"mark":{"type":"text","text":"HMQ−TMS α","align":"left","baseline":"middle","fontSize":17,"font":"Liberation Sans","color":"#222222"},
     "encoding":{"x":{"datum":5.6,"type":"quantitative"},"y":{"datum":2.645,"type":"quantitative"}}},
    {"data":{"values":[{}]},"mark":{"type":"text","text":"THz3","align":"left","baseline":"middle","fontSize":13,"dy":6,"font":"Liberation Sans","color":"#222222"},
     "encoding":{"x":{"datum":9.06,"type":"quantitative"},"y":{"datum":2.645,"type":"quantitative"}}}
   ]},
   {"data":{"name":"a_hmq"},"mark":{"type":"line","color":"#1b9cff","strokeWidth":3,"strokeDash":[3,3],"clip":true,"interpolate":"monotone"},
    "encoding":{"x":{"field":"f","type":"quantitative","axis":{"orient":"top","values":[0.5,1,1.5,2,2.5,3,3.5,4,4.5,5,5.5,6,6.5,7,7.5,8,8.5,9,9.5,10,10.5],"labels":false,"title":null}},
     "y":{"field":"a","type":"quantitative","scale":{"domain":[0,90],"nice":false,"zero":false},"axis":{"orient":"right","values":[0,10,20,30,40,50,60,70,80,90],"labelExpr":"datum.value % 20 == 0 ? format(datum.value,'d') : ''","labelOverlap":false,"title":["Absorption Coeff.","(1/mm)"],"titleAngle":-90,"titleBaseline":"top","labelColor":"#1b9cff","tickColor":"#1b9cff","titleColor":"#1b9cff","domain":true,"domainColor":"#1b9cff","domainWidth":1.5,"labelPadding":10,"titlePadding":-14}}}},
   {"data":{"name":"n_hmq"},"mark":{"type":"line","opacity":0},
    "encoding":{"x":{"field":"f","type":"quantitative","axis":{"orient":"bottom","values":[0,0.5,1,1.5,2,2.5,3,3.5,4,4.5,5,5.5,6,6.5,7,7.5,8,8.5,9,9.5,10,10.5,11],"labelExpr":"datum.value % 1 == 0 ? format(datum.value,'d') : ''","labelOverlap":false,"title":"Frequency (THz)","labelPadding":15,"titlePadding":3}},
     "y":{"field":"n","type":"quantitative","scale":{"domain":[1.7,3.1],"nice":false,"zero":false},"axis":{"orient":"left","values":[1.8,1.9,2.0,2.1,2.2,2.3,2.4,2.5,2.6,2.7,2.8,2.9,3.0],"labelExpr":"round(datum.value*10) % 2 == 0 ? format(datum.value,'.1f') : ''","labelOverlap":false,"title":["THz","Refractive Index"],"labelPadding":16,"titlePadding":10}}}}
  ],
  "resolve":{"scale":{"y":"independent"},"axis":{"x":"independent","y":"independent"}}}
],
"columns": 2,
"spacing": {"row": 18.7, "column": 116},
"bounds": "flush",
"config": {
 "view": {"stroke":"#222222","strokeWidth":1.5},
 "font": "Liberation Sans",
 "axis": {"zindex":1,"domain":false,"grid":false,"tickSize":-5,"tickWidth":1.5,"tickColor":"#222222","labelFont":"Liberation Sans","labelFontSize":19,"labelColor":"#222222","labelOverlap":false,"labelFlush":false,"titleFont":"Liberation Sans","titleFontSize":19.5,"titleFontWeight":"normal","titleColor":"#222222","titleLineHeight":24}
}
}
